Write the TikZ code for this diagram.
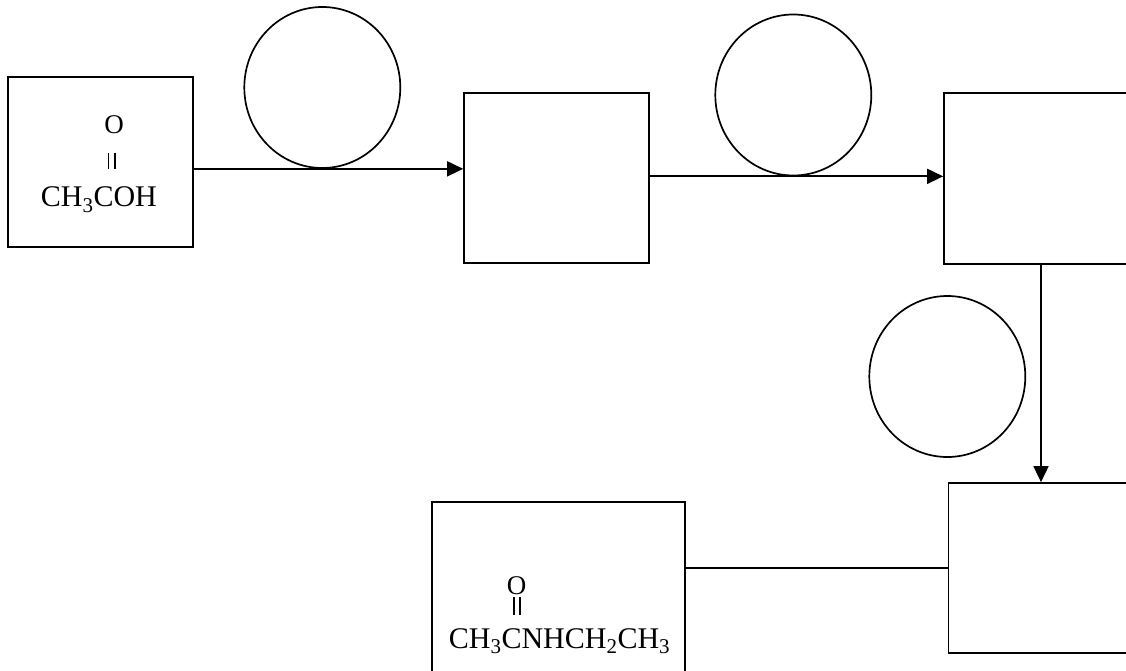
\documentclass[tikz,border=0pt]{standalone}
\usepackage{fontspec}
\setmainfont{Liberation Serif}
\usetikzlibrary{arrows.meta,shapes.geometric}
\begin{document}
\begin{tikzpicture}[x=1pt,y=-1pt,line width=1.7pt,
  stage/.style={draw,rectangle,inner sep=0pt},
  ring/.style={draw,ellipse,inner sep=0pt,minimum width=156pt,minimum height=161pt},
  flow/.style={-{Triangle[length=16pt,width=15pt]}},
  chem/.style={inner sep=0pt,anchor=base west,font=\fontsize{30}{36}\selectfont},
  oxy/.style={inner sep=0pt,font=\fontsize{27}{32}\selectfont},
  bond/.style={line width=1.8pt}]
\useasboundingbox[clip] (0,0) rectangle (1126,671);

% reaction stages
\node[stage,minimum width=185pt,minimum height=170pt] (s1) at (100.5,162) {};
\node[stage,minimum width=185pt,minimum height=170pt] (s2) at (556.5,178) {};
\node[stage,minimum width=185pt,minimum height=171pt] (s3) at (1036.5,178.5) {};
\node[stage,minimum width=185pt,minimum height=170pt] (s4) at (1041,568) {};
\node[stage,minimum width=253pt,minimum height=178pt] (s5) at (558.5,591) {};

% reagent circles
\node[ring] (r1) at (322.3,87.5) {};
\node[ring] (r2) at (793.3,95) {};
\node[ring] (r3) at (947.3,376.5) {};

% connectors
\draw[flow] (s1.east |- r1.south) -- (s2.west |- r1.south);
\draw[flow] (s2.east |- r2.south) -- (s3.west |- r2.south);
\draw[flow] (s3.south -| s4.north) -- (s4.north);
\draw (s4.west) -- (s5.east |- s4.west);

% acetic acid
\node[oxy] (o1) at (114,125) {O};
\draw[bond] (108.5,153) -- (108.5,169);
\draw[bond] (115,153) -- (115,169);
\node[chem] (acid) at (40,207) {CH\textsubscript{3}COH};

% N-ethylacetamide
\node[oxy] (o2) at (516.5,585.5) {O};
\draw[bond] (514,597) -- (514,615);
\draw[bond] (520,597) -- (520,615);
\node[chem] (amide) at (448,648) {CH\textsubscript{3}CNHCH\textsubscript{2}CH\textsubscript{3}};
\end{tikzpicture}
\end{document}
